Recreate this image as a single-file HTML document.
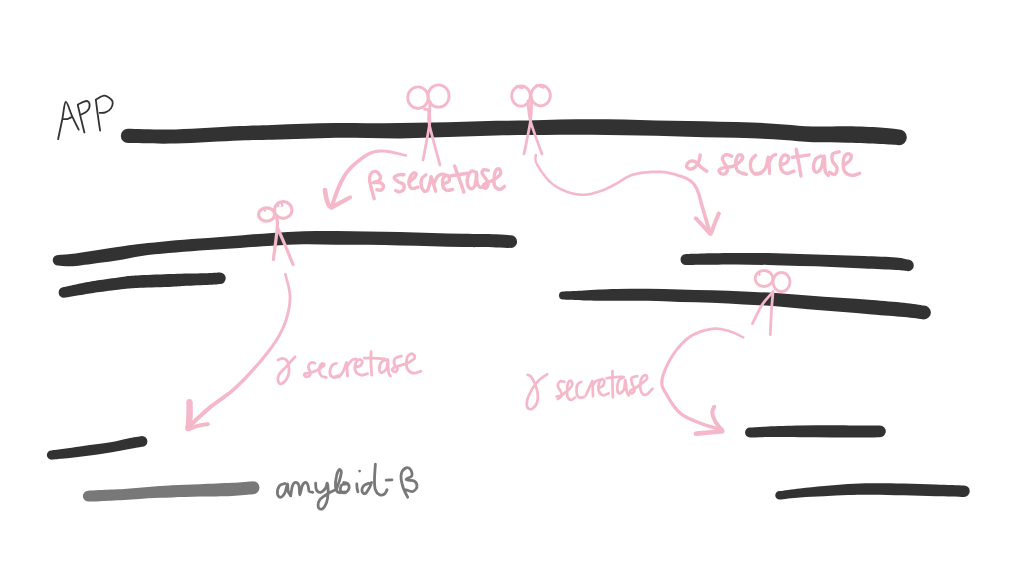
<!DOCTYPE html>
<html><head><meta charset="utf-8"><style>
html,body{margin:0;padding:0;background:#fff;width:1024px;height:576px;overflow:hidden}
svg{display:block}
</style></head><body>
<svg width="1024" height="576" viewBox="0 0 1024 576">
<rect width="1024" height="576" fill="#fff"/>
<g fill="none" stroke-linecap="round" stroke-linejoin="round">
<path d="M128.00,128.75C136.00,128.86 157.33,129.84 176.00,129.40C194.67,128.96 224.00,126.83 240.00,126.10C256.00,125.37 261.33,125.39 272.00,125.00C282.67,124.61 293.33,124.07 304.00,123.75C314.67,123.43 325.33,123.19 336.00,123.10C346.67,123.01 357.33,123.22 368.00,123.20C378.67,123.18 389.33,123.10 400.00,123.00C410.67,122.90 421.33,122.81 432.00,122.60C442.67,122.39 453.33,122.06 464.00,121.75C474.67,121.44 485.33,120.96 496.00,120.75C506.67,120.54 517.33,120.71 528.00,120.50C538.67,120.29 549.33,119.71 560.00,119.50C570.67,119.29 581.33,119.25 592.00,119.25C602.67,119.25 613.33,119.29 624.00,119.50C634.67,119.71 645.33,120.25 656.00,120.50C666.67,120.75 677.33,120.79 688.00,121.00C698.67,121.21 709.33,121.50 720.00,121.75C730.67,122.00 741.33,122.06 752.00,122.50C762.67,122.94 773.83,123.73 784.00,124.40C794.17,125.07 802.33,126.19 813.00,126.50C823.67,126.81 836.83,126.08 848.00,126.25C859.17,126.42 871.50,126.96 880.00,127.50C888.50,128.04 895.83,129.17 899.00,129.50A7.85,7.85 0 0 1 899.00,145.20C895.83,145.00 888.50,144.41 880.00,144.00C871.50,143.59 859.17,143.04 848.00,142.75C836.83,142.46 823.67,142.71 813.00,142.25C802.33,141.79 794.17,140.66 784.00,140.00C773.83,139.34 762.67,138.70 752.00,138.30C741.33,137.90 730.67,137.86 720.00,137.60C709.33,137.34 698.67,137.06 688.00,136.75C677.33,136.44 666.67,135.99 656.00,135.75C645.33,135.51 634.67,135.47 624.00,135.30C613.33,135.13 602.67,134.84 592.00,134.75C581.33,134.66 570.67,134.69 560.00,134.75C549.33,134.81 538.67,134.99 528.00,135.10C517.33,135.21 506.67,135.18 496.00,135.40C485.33,135.62 474.67,136.03 464.00,136.40C453.33,136.77 442.67,137.25 432.00,137.60C421.33,137.95 410.67,138.43 400.00,138.50C389.33,138.57 378.67,138.12 368.00,138.00C357.33,137.88 346.67,137.62 336.00,137.75C325.33,137.88 314.67,138.42 304.00,138.75C293.33,139.08 282.67,139.46 272.00,139.75C261.33,140.04 256.00,139.88 240.00,140.50C224.00,141.12 194.67,143.07 176.00,143.50C157.33,143.93 136.00,143.17 128.00,143.10A7.17,7.17 0 0 1 128.00,128.75Z" fill="#323232" stroke="none"/>
<path d="M58.00,255.00C60.50,254.79 66.33,254.58 73.00,253.75C79.67,252.92 89.67,251.25 98.00,250.00C106.33,248.75 114.67,247.40 123.00,246.25C131.33,245.10 139.17,244.11 148.00,243.10C156.83,242.09 166.00,241.07 176.00,240.20C186.00,239.33 197.33,238.70 208.00,237.90C218.67,237.10 229.33,236.23 240.00,235.40C250.67,234.57 261.33,233.58 272.00,232.90C282.67,232.22 293.33,231.62 304.00,231.30C314.67,230.98 325.33,230.98 336.00,231.00C346.67,231.02 357.33,231.23 368.00,231.40C378.67,231.57 389.33,231.73 400.00,232.00C410.67,232.27 421.33,232.70 432.00,233.00C442.67,233.30 453.33,233.58 464.00,233.80C474.67,234.02 488.17,234.06 496.00,234.30C503.83,234.54 508.50,235.09 511.00,235.25A6.38,6.38 0 0 1 511.00,248.00C508.50,247.90 503.83,247.57 496.00,247.40C488.17,247.23 474.67,247.20 464.00,247.00C453.33,246.80 442.67,246.45 432.00,246.20C421.33,245.95 410.67,245.74 400.00,245.50C389.33,245.26 378.67,244.88 368.00,244.75C357.33,244.62 346.67,244.82 336.00,244.75C325.33,244.68 314.67,244.13 304.00,244.30C293.33,244.47 282.67,245.15 272.00,245.75C261.33,246.35 250.67,247.19 240.00,247.90C229.33,248.61 218.67,249.23 208.00,250.00C197.33,250.77 186.00,251.67 176.00,252.50C166.00,253.33 156.83,253.85 148.00,255.00C139.17,256.15 131.33,258.05 123.00,259.40C114.67,260.75 106.33,261.96 98.00,263.10C89.67,264.24 79.67,265.83 73.00,266.25C66.33,266.67 60.50,265.71 58.00,265.60A5.30,5.30 0 0 1 58.00,255.00Z" fill="#323232" stroke="none"/>
<path d="M64.00,287.00C67.33,286.29 78.00,283.92 84.00,282.75C90.00,281.58 93.33,281.02 100.00,280.00C106.67,278.98 117.33,277.43 124.00,276.65C130.67,275.87 132.00,275.73 140.00,275.30C148.00,274.88 164.00,274.38 172.00,274.10C180.00,273.82 181.33,273.80 188.00,273.60C194.67,273.40 206.67,273.07 212.00,272.90C217.33,272.73 218.67,272.65 220.00,272.60A5.75,5.75 0 0 1 220.00,284.10C218.67,284.22 217.33,284.52 212.00,284.80C206.67,285.08 194.67,285.48 188.00,285.80C181.33,286.12 180.00,286.37 172.00,286.70C164.00,287.03 148.00,287.40 140.00,287.80C132.00,288.20 130.67,288.38 124.00,289.10C117.33,289.82 106.67,291.20 100.00,292.10C93.33,293.00 90.00,293.55 84.00,294.50C78.00,295.45 67.33,297.25 64.00,297.80A5.40,5.40 0 0 1 64.00,287.00Z" fill="#323232" stroke="none"/>
<path d="M686.00,254.00C689.00,253.92 695.67,253.65 704.00,253.50C712.33,253.35 725.33,253.17 736.00,253.10C746.67,253.03 757.33,252.95 768.00,253.10C778.67,253.25 789.33,253.68 800.00,254.00C810.67,254.32 821.33,254.67 832.00,255.00C842.67,255.33 853.33,255.58 864.00,256.00C874.67,256.42 888.67,256.90 896.00,257.50C903.33,258.10 906.00,259.25 908.00,259.60A5.80,5.80 0 0 1 908.00,271.20C906.00,271.00 903.33,270.45 896.00,270.00C888.67,269.55 874.67,269.02 864.00,268.50C853.33,267.98 842.67,267.30 832.00,266.90C821.33,266.50 810.67,266.42 800.00,266.10C789.33,265.78 778.67,265.28 768.00,265.00C757.33,264.72 746.67,264.44 736.00,264.40C725.33,264.36 712.33,264.65 704.00,264.75C695.67,264.85 689.00,264.96 686.00,265.00A5.50,5.50 0 0 1 686.00,254.00Z" fill="#323232" stroke="none"/>
<path d="M563.00,291.50C563.83,291.46 564.50,291.43 568.00,291.25C571.50,291.07 576.00,290.76 584.00,290.40C592.00,290.04 605.33,289.38 616.00,289.10C626.67,288.83 637.33,288.70 648.00,288.75C658.67,288.80 669.33,289.15 680.00,289.40C690.67,289.65 701.33,289.90 712.00,290.25C722.67,290.60 733.33,291.02 744.00,291.50C754.67,291.98 765.33,292.43 776.00,293.10C786.67,293.77 797.33,294.73 808.00,295.50C818.67,296.27 829.33,297.02 840.00,297.75C850.67,298.48 861.33,299.07 872.00,299.90C882.67,300.73 895.33,301.80 904.00,302.75C912.67,303.70 920.67,305.12 924.00,305.60A6.90,6.90 0 0 1 924.00,319.40C920.67,319.00 912.67,317.82 904.00,317.00C895.33,316.18 882.67,315.38 872.00,314.50C861.33,313.62 850.67,312.62 840.00,311.75C829.33,310.88 818.67,310.22 808.00,309.30C797.33,308.38 786.67,307.07 776.00,306.25C765.33,305.43 754.67,304.98 744.00,304.40C733.33,303.82 722.67,303.15 712.00,302.75C701.33,302.35 690.67,302.33 680.00,302.00C669.33,301.67 658.67,300.96 648.00,300.75C637.33,300.54 626.67,300.81 616.00,300.75C605.33,300.69 592.00,300.57 584.00,300.40C576.00,300.23 571.50,299.90 568.00,299.75C564.50,299.60 563.83,299.54 563.00,299.50A4.00,4.00 0 0 1 563.00,291.50Z" fill="#323232" stroke="none"/>
<path d="M51.50,450.40C53.58,450.13 59.25,449.47 64.00,448.80C68.75,448.13 74.67,447.17 80.00,446.40C85.33,445.63 90.67,444.93 96.00,444.20C101.33,443.47 106.67,442.97 112.00,442.00C117.33,441.03 123.00,439.40 128.00,438.40C133.00,437.40 139.67,436.40 142.00,436.00A5.40,5.40 0 0 1 142.00,446.80C139.67,447.22 133.00,448.38 128.00,449.30C123.00,450.22 117.33,451.38 112.00,452.30C106.67,453.22 101.33,454.07 96.00,454.80C90.67,455.53 85.33,456.07 80.00,456.70C74.67,457.33 68.75,458.10 64.00,458.60C59.25,459.10 53.58,459.52 51.50,459.70A4.65,4.65 0 0 1 51.50,450.40Z" fill="#323232" stroke="none"/>
<path d="M88.00,490.75C90.00,490.62 94.00,490.31 100.00,490.00C106.00,489.69 116.00,489.40 124.00,488.90C132.00,488.40 140.00,487.60 148.00,487.00C156.00,486.40 163.33,485.77 172.00,485.30C180.67,484.83 190.00,484.62 200.00,484.20C210.00,483.78 223.17,483.30 232.00,482.80C240.83,482.30 249.50,481.47 253.00,481.20A6.50,6.50 0 0 1 253.00,494.20C249.50,494.48 240.83,495.50 232.00,495.90C223.17,496.30 210.00,496.35 200.00,496.60C190.00,496.85 180.67,497.12 172.00,497.40C163.33,497.67 156.00,497.80 148.00,498.25C140.00,498.70 132.00,499.60 124.00,500.10C116.00,500.60 106.00,501.02 100.00,501.25C94.00,501.48 90.00,501.46 88.00,501.50A5.38,5.38 0 0 1 88.00,490.75Z" fill="#787878" stroke="none"/>
<path d="M750.00,427.60C753.00,427.42 759.67,426.85 768.00,426.50C776.33,426.15 789.33,425.72 800.00,425.50C810.67,425.28 821.33,425.20 832.00,425.20C842.67,425.20 856.00,425.45 864.00,425.50C872.00,425.55 877.33,425.50 880.00,425.50A5.85,5.85 0 0 1 880.00,437.20C877.33,437.27 872.00,437.57 864.00,437.60C856.00,437.63 842.67,437.46 832.00,437.40C821.33,437.34 810.67,437.30 800.00,437.25C789.33,437.20 776.33,437.06 768.00,437.10C759.67,437.14 753.00,437.43 750.00,437.50A4.95,4.95 0 0 1 750.00,427.60Z" fill="#323232" stroke="none"/>
<path d="M779.50,491.00C782.92,490.57 792.58,489.23 800.00,488.40C807.42,487.57 816.00,486.73 824.00,486.00C832.00,485.27 840.00,484.47 848.00,484.00C856.00,483.53 862.67,483.28 872.00,483.20C881.33,483.12 893.33,483.30 904.00,483.50C914.67,483.70 926.00,484.08 936.00,484.40C946.00,484.72 959.33,485.23 964.00,485.40A5.75,5.75 0 0 1 964.00,496.90C959.33,496.78 946.00,496.46 936.00,496.20C926.00,495.94 914.67,495.60 904.00,495.35C893.33,495.10 881.33,494.76 872.00,494.70C862.67,494.64 856.00,494.73 848.00,495.00C840.00,495.27 832.00,495.90 824.00,496.30C816.00,496.70 807.42,496.87 800.00,497.40C792.58,497.93 782.92,499.15 779.50,499.50A4.25,4.25 0 0 1 779.50,491.00Z" fill="#323232" stroke="none"/>
<ellipse cx="418" cy="97.7" rx="10.3" ry="10.8" stroke="#f4b8ca" stroke-width="2.8"/>
<ellipse cx="438.5" cy="96" rx="10.6" ry="11.2" stroke="#f4b8ca" stroke-width="2.8"/>
<path d="M430.1,101.5C430.0,103.2 429.7,108.1 429.6,112.0C429.5,115.9 430.5,117.0 429.4,125.0C428.3,133.0 424.1,154.2 423.0,160.0" stroke="#f4b8ca" stroke-width="2.8"/>
<path d="M424.6,109.3C425.1,109.3 426.9,108.9 427.6,109.6C428.3,110.2 428.5,110.6 428.8,113.2C429.1,115.8 427.5,116.4 429.4,125.0C431.3,133.6 438.2,158.3 440.0,165.0" stroke="#f4b8ca" stroke-width="2.8"/>
<ellipse cx="521" cy="96" rx="9.3" ry="10.2" stroke="#f4b8ca" stroke-width="2.8"/>
<ellipse cx="540.7" cy="95.5" rx="9.7" ry="10.3" stroke="#f4b8ca" stroke-width="2.8"/>
<path d="M531.5,102.0C531.3,105.2 531.8,112.3 530.5,121.0C529.2,129.7 525.1,148.5 524.0,154.0" stroke="#f4b8ca" stroke-width="2.8"/>
<path d="M528.0,101.0C528.4,104.3 528.2,112.2 530.5,121.0C532.8,129.8 540.1,148.5 542.0,154.0" stroke="#f4b8ca" stroke-width="2.8"/>
<ellipse cx="266.6" cy="214.5" rx="8" ry="6.6" stroke="#f4b8ca" stroke-width="3.2"/>
<ellipse cx="283.2" cy="210" rx="8.8" ry="8.3" stroke="#f4b8ca" stroke-width="3.2"/>
<path d="M276.7,218.0C276.8,219.6 277.9,220.6 277.3,227.5C276.8,234.4 274.0,254.2 273.4,259.5" stroke="#f4b8ca" stroke-width="3.2"/>
<path d="M277.3,227.5C278.6,230.4 282.4,238.8 285.0,245.0C287.6,251.2 291.7,261.2 293.0,264.5" stroke="#f4b8ca" stroke-width="3.2"/>
<ellipse cx="764" cy="278.5" rx="8.9" ry="8" stroke="#f4b8ca" stroke-width="2.8"/>
<ellipse cx="781.5" cy="282" rx="8.5" ry="9.5" stroke="#f4b8ca" stroke-width="2.8"/>
<path d="M773.0,291.8C771.2,294.0 765.4,299.7 762.0,305.0C758.6,310.3 754.1,320.4 752.5,323.5" stroke="#f4b8ca" stroke-width="2.8"/>
<path d="M773.0,291.8C772.8,294.8 772.0,302.9 771.5,310.0C771.0,317.1 770.5,330.5 770.3,334.6" stroke="#f4b8ca" stroke-width="2.8"/>
<path d="M277.7,202.6L278.3,206.2" stroke="#f4b8ca" stroke-width="2.2"/>
<path d="M281.8,202.8L282.3,206.0" stroke="#f4b8ca" stroke-width="2.2"/>
<path d="M264.4,208.2L265.0,210.8" stroke="#f4b8ca" stroke-width="2.2"/>
<path d="M758.6,272.2L759.6,274.8" stroke="#f4b8ca" stroke-width="2.2"/>
<path d="M516.5,86.5L522.5,88.0" stroke="#f4b8ca" stroke-width="2.4"/>
<path d="M536.5,85.2L543.5,87.5" stroke="#f4b8ca" stroke-width="2.4"/>
<path d="M406.07,154.13 L405.29,153.95 L404.35,153.73 L403.24,153.45 L401.99,153.14 L400.63,152.80 L399.16,152.43 L397.62,152.06 L396.03,151.68 L394.41,151.31 L392.77,150.96 L391.13,150.62 L389.53,150.32 L387.97,150.06 L386.48,149.84 L385.06,149.69 L383.76,149.60 L382.57,149.56 L381.45,149.54 L380.37,149.54 L379.33,149.56 L378.31,149.62 L377.31,149.70 L376.32,149.81 L375.35,149.97 L374.38,150.16 L373.41,150.39 L372.44,150.67 L371.46,150.99 L370.46,151.37 L369.44,151.79 L368.40,152.26 L367.31,152.79 L366.18,153.40 L365.00,154.07 L363.80,154.82 L362.58,155.62 L361.33,156.47 L360.08,157.36 L358.83,158.30 L357.58,159.26 L356.34,160.25 L355.12,161.26 L353.93,162.28 L352.77,163.30 L351.65,164.32 L350.58,165.33 L349.57,166.33 L348.61,167.30 L347.73,168.26 L346.89,169.21 L346.11,170.16 L345.36,171.10 L344.66,172.04 L343.99,172.99 L343.35,173.94 L342.74,174.91 L342.15,175.89 L341.57,176.88 L341.01,177.90 L340.45,178.94 L339.90,180.01 L339.34,181.11 L338.78,182.25 L338.19,183.44 L337.59,184.75 L336.97,186.18 L336.34,187.70 L335.71,189.29 L335.08,190.93 L334.45,192.61 L333.84,194.29 L333.24,195.96 L332.66,197.60 L332.11,199.19 L331.59,200.69 L331.10,202.10 L330.66,203.39 L330.26,204.54 L329.91,205.52 L329.62,206.31 L333.38,207.69 L333.68,206.87 L334.03,205.86 L334.44,204.70 L334.88,203.41 L335.37,202.00 L335.89,200.50 L336.44,198.92 L337.01,197.30 L337.60,195.65 L338.21,193.99 L338.82,192.35 L339.43,190.74 L340.05,189.20 L340.65,187.74 L341.24,186.39 L341.81,185.16 L342.36,184.00 L342.90,182.87 L343.44,181.80 L343.96,180.76 L344.48,179.76 L345.00,178.79 L345.52,177.86 L346.06,176.94 L346.62,176.05 L347.19,175.17 L347.79,174.30 L348.43,173.43 L349.10,172.56 L349.81,171.68 L350.57,170.80 L351.39,169.90 L352.26,168.97 L353.20,168.01 L354.21,167.03 L355.26,166.03 L356.36,165.03 L357.49,164.04 L358.65,163.05 L359.82,162.08 L361.01,161.13 L362.20,160.21 L363.38,159.34 L364.55,158.51 L365.69,157.73 L366.80,157.02 L367.87,156.38 L368.89,155.81 L369.87,155.30 L370.81,154.85 L371.71,154.45 L372.59,154.09 L373.44,153.79 L374.28,153.52 L375.11,153.30 L375.95,153.11 L376.79,152.95 L377.66,152.83 L378.55,152.73 L379.48,152.66 L380.44,152.61 L381.46,152.59 L382.53,152.59 L383.64,152.60 L384.82,152.65 L386.13,152.77 L387.54,152.95 L389.04,153.18 L390.60,153.45 L392.20,153.75 L393.81,154.07 L395.42,154.42 L397.00,154.76 L398.53,155.11 L399.99,155.45 L401.36,155.76 L402.62,156.05 L403.75,156.31 L404.73,156.52 L405.53,156.67Z" fill="#f4b8ca" stroke="none"/>
<circle cx="405.80" cy="155.40" r="1.30" fill="#f4b8ca" stroke="none"/>
<circle cx="331.50" cy="207.00" r="2.00" fill="#f4b8ca" stroke="none"/>
<path d="M322.63,190.39 L322.68,190.66 L322.73,190.97 L322.79,191.35 L322.86,191.77 L322.93,192.24 L323.01,192.74 L323.10,193.27 L323.19,193.83 L323.28,194.39 L323.38,194.97 L323.49,195.56 L323.59,196.14 L323.71,196.71 L323.82,197.28 L323.94,197.83 L324.06,198.34 L324.19,198.83 L324.32,199.32 L324.46,199.83 L324.60,200.34 L324.74,200.85 L324.89,201.36 L325.05,201.88 L325.20,202.38 L325.36,202.89 L325.53,203.38 L325.70,203.86 L325.88,204.33 L326.06,204.78 L326.25,205.22 L326.45,205.64 L326.67,206.05 L326.92,206.47 L327.20,206.86 L327.50,207.22 L327.80,207.54 L328.11,207.83 L328.41,208.08 L328.71,208.30 L329.00,208.49 L329.27,208.65 L329.51,208.79 L329.73,208.91 L329.92,209.01 L330.06,209.09 L330.16,209.13 L330.18,209.14 L330.22,209.16 L332.78,205.84 L332.61,205.70 L332.39,205.55 L332.19,205.42 L332.01,205.31 L331.84,205.21 L331.68,205.11 L331.53,205.01 L331.39,204.91 L331.25,204.81 L331.13,204.71 L331.01,204.60 L330.90,204.49 L330.80,204.37 L330.71,204.24 L330.62,204.11 L330.53,203.95 L330.43,203.72 L330.30,203.44 L330.18,203.12 L330.05,202.76 L329.91,202.38 L329.78,201.96 L329.64,201.53 L329.51,201.08 L329.38,200.61 L329.25,200.14 L329.12,199.65 L329.00,199.17 L328.88,198.68 L328.76,198.20 L328.64,197.72 L328.54,197.26 L328.43,196.80 L328.32,196.32 L328.22,195.81 L328.11,195.28 L328.01,194.73 L327.91,194.18 L327.82,193.62 L327.73,193.07 L327.64,192.54 L327.55,192.02 L327.48,191.52 L327.40,191.06 L327.33,190.63 L327.27,190.24 L327.22,189.89 L327.17,189.61Z" fill="#f4b8ca" stroke="none"/>
<circle cx="324.90" cy="190.00" r="2.30" fill="#f4b8ca" stroke="none"/>
<circle cx="331.50" cy="207.50" r="2.10" fill="#f4b8ca" stroke="none"/>
<path d="M332.54,209.44 L332.85,209.27 L333.20,209.08 L333.61,208.86 L334.07,208.62 L334.57,208.35 L335.11,208.06 L335.68,207.76 L336.27,207.44 L336.88,207.11 L337.50,206.77 L338.14,206.43 L338.78,206.08 L339.41,205.74 L340.04,205.39 L340.66,205.06 L341.26,204.73 L341.86,204.37 L342.51,204.00 L343.18,203.60 L343.88,203.19 L344.59,202.77 L345.31,202.34 L346.04,201.91 L346.75,201.49 L347.44,201.08 L348.11,200.68 L348.75,200.30 L349.34,199.95 L349.88,199.62 L350.37,199.33 L350.79,199.07 L351.13,198.86 L349.27,195.54 L348.91,195.72 L348.47,195.95 L347.97,196.21 L347.40,196.51 L346.79,196.83 L346.14,197.18 L345.45,197.54 L344.74,197.92 L344.01,198.31 L343.27,198.70 L342.54,199.09 L341.81,199.48 L341.09,199.85 L340.41,200.21 L339.75,200.56 L339.14,200.87 L338.55,201.20 L337.94,201.53 L337.31,201.87 L336.68,202.21 L336.05,202.56 L335.42,202.90 L334.79,203.23 L334.18,203.56 L333.59,203.88 L333.03,204.18 L332.49,204.47 L331.99,204.74 L331.53,204.98 L331.12,205.21 L330.76,205.40 L330.46,205.56Z" fill="#f4b8ca" stroke="none"/>
<circle cx="331.50" cy="207.50" r="2.20" fill="#f4b8ca" stroke="none"/>
<circle cx="350.20" cy="197.20" r="1.90" fill="#f4b8ca" stroke="none"/>
<path d="M534.60,154.94 L534.61,155.17 L534.59,155.41 L534.56,155.72 L534.50,156.10 L534.43,156.53 L534.36,157.02 L534.30,157.56 L534.26,158.14 L534.24,158.77 L534.26,159.45 L534.33,160.16 L534.45,160.91 L534.63,161.70 L534.88,162.52 L535.22,163.37 L535.63,164.24 L536.11,165.15 L536.66,166.13 L537.27,167.18 L537.95,168.29 L538.68,169.46 L539.45,170.66 L540.27,171.88 L541.13,173.12 L542.01,174.36 L542.92,175.60 L543.85,176.81 L544.79,177.99 L545.73,179.12 L546.67,180.20 L547.61,181.22 L548.53,182.15 L549.45,183.01 L550.38,183.83 L551.33,184.62 L552.28,185.37 L553.25,186.09 L554.23,186.77 L555.22,187.43 L556.23,188.05 L557.24,188.65 L558.26,189.22 L559.28,189.76 L560.32,190.29 L561.36,190.78 L562.41,191.26 L563.47,191.72 L564.53,192.16 L565.61,192.59 L566.71,192.99 L567.83,193.38 L568.96,193.75 L570.10,194.09 L571.26,194.41 L572.42,194.71 L573.59,194.98 L574.76,195.22 L575.93,195.44 L577.10,195.63 L578.27,195.78 L579.44,195.91 L580.60,196.01 L581.75,196.07 L582.89,196.10 L584.04,196.08 L585.19,196.02 L586.34,195.92 L587.48,195.78 L588.62,195.61 L589.76,195.40 L590.88,195.17 L592.00,194.92 L593.11,194.65 L594.20,194.36 L595.28,194.06 L596.34,193.75 L597.38,193.43 L598.41,193.11 L599.41,192.80 L600.40,192.49 L601.36,192.17 L602.29,191.85 L603.19,191.52 L604.05,191.18 L604.90,190.83 L605.73,190.48 L606.55,190.11 L607.36,189.73 L608.18,189.34 L609.00,188.93 L609.84,188.51 L610.70,188.08 L611.59,187.63 L612.51,187.16 L613.47,186.67 L614.49,186.16 L615.57,185.59 L616.67,184.98 L617.78,184.32 L618.90,183.63 L620.03,182.91 L621.17,182.18 L622.34,181.45 L623.51,180.71 L624.71,179.99 L625.93,179.28 L627.16,178.61 L628.42,177.96 L629.70,177.36 L631.00,176.81 L632.32,176.32 L633.68,175.90 L635.10,175.52 L636.61,175.17 L638.19,174.85 L639.83,174.56 L641.51,174.30 L643.22,174.07 L644.96,173.87 L646.71,173.70 L648.46,173.55 L650.19,173.43 L651.90,173.34 L653.57,173.27 L655.20,173.22 L656.77,173.19 L658.26,173.18 L659.67,173.20 L661.01,173.24 L662.29,173.32 L663.54,173.44 L664.76,173.59 L665.94,173.76 L667.09,173.96 L668.21,174.18 L669.30,174.42 L670.37,174.68 L671.42,174.95 L672.45,175.23 L673.47,175.52 L674.47,175.81 L675.45,176.11 L676.43,176.40 L677.39,176.69 L678.32,176.98 L679.23,177.26 L680.11,177.55 L680.97,177.85 L681.81,178.14 L682.62,178.45 L683.40,178.76 L684.16,179.08 L684.90,179.41 L685.61,179.75 L686.30,180.10 L686.96,180.46 L687.60,180.83 L688.21,181.22 L688.80,181.62 L689.37,182.04 L689.92,182.47 L690.44,182.90 L690.92,183.32 L691.36,183.74 L691.78,184.16 L692.17,184.59 L692.55,185.03 L692.91,185.49 L693.26,185.98 L693.60,186.50 L693.94,187.06 L694.28,187.66 L694.62,188.31 L694.97,189.00 L695.33,189.76 L695.69,190.57 L696.05,191.42 L696.39,192.32 L696.72,193.27 L697.04,194.27 L697.36,195.32 L697.68,196.41 L697.99,197.55 L698.30,198.72 L698.62,199.92 L698.94,201.16 L699.27,202.43 L699.60,203.72 L699.95,205.04 L700.31,206.38 L700.68,207.74 L701.07,209.11 L701.50,210.55 L701.95,212.10 L702.44,213.76 L702.95,215.49 L703.47,217.28 L704.01,219.10 L704.54,220.93 L705.08,222.75 L705.60,224.52 L706.10,226.24 L706.58,227.88 L707.03,229.41 L707.44,230.82 L707.81,232.07 L708.12,233.16 L708.38,234.04 L712.02,232.96 L711.75,232.08 L711.43,231.00 L711.05,229.75 L710.63,228.35 L710.17,226.82 L709.67,225.18 L709.16,223.47 L708.62,221.69 L708.08,219.88 L707.53,218.05 L706.98,216.24 L706.45,214.45 L705.93,212.72 L705.43,211.07 L704.96,209.52 L704.53,208.09 L704.12,206.75 L703.74,205.42 L703.37,204.11 L703.01,202.81 L702.65,201.53 L702.31,200.26 L701.97,199.02 L701.63,197.81 L701.29,196.62 L700.95,195.46 L700.61,194.33 L700.25,193.23 L699.89,192.17 L699.51,191.15 L699.12,190.17 L698.71,189.23 L698.30,188.36 L697.91,187.55 L697.51,186.79 L697.12,186.07 L696.72,185.39 L696.31,184.75 L695.89,184.14 L695.45,183.56 L695.00,183.00 L694.54,182.47 L694.05,181.95 L693.54,181.46 L693.00,180.97 L692.44,180.50 L691.85,180.03 L691.23,179.56 L690.56,179.09 L689.88,178.63 L689.17,178.20 L688.44,177.79 L687.69,177.40 L686.93,177.02 L686.14,176.66 L685.34,176.32 L684.51,175.99 L683.67,175.67 L682.81,175.36 L681.93,175.05 L681.03,174.76 L680.11,174.47 L679.17,174.19 L678.21,173.91 L677.25,173.63 L676.27,173.34 L675.28,173.05 L674.26,172.75 L673.22,172.46 L672.15,172.18 L671.06,171.90 L669.93,171.64 L668.78,171.39 L667.60,171.17 L666.38,170.96 L665.12,170.78 L663.83,170.64 L662.50,170.52 L661.13,170.44 L659.73,170.40 L658.27,170.39 L656.73,170.40 L655.13,170.44 L653.47,170.49 L651.76,170.57 L650.01,170.68 L648.24,170.81 L646.45,170.96 L644.66,171.15 L642.88,171.36 L641.12,171.60 L639.38,171.87 L637.68,172.18 L636.03,172.52 L634.44,172.89 L632.92,173.30 L631.45,173.78 L630.00,174.32 L628.60,174.92 L627.24,175.56 L625.91,176.25 L624.61,176.97 L623.35,177.71 L622.12,178.46 L620.92,179.21 L619.76,179.96 L618.61,180.69 L617.50,181.40 L616.42,182.08 L615.36,182.72 L614.32,183.31 L613.31,183.84 L612.30,184.35 L611.33,184.84 L610.41,185.31 L609.53,185.76 L608.67,186.19 L607.85,186.60 L607.04,187.00 L606.25,187.38 L605.47,187.74 L604.68,188.10 L603.89,188.44 L603.09,188.77 L602.26,189.09 L601.42,189.40 L600.53,189.71 L599.60,190.01 L598.63,190.32 L597.63,190.63 L596.62,190.94 L595.60,191.25 L594.56,191.56 L593.52,191.85 L592.46,192.13 L591.40,192.39 L590.33,192.63 L589.27,192.85 L588.20,193.04 L587.13,193.20 L586.06,193.34 L585.01,193.43 L583.95,193.49 L582.91,193.50 L581.85,193.48 L580.77,193.43 L579.68,193.34 L578.58,193.23 L577.47,193.08 L576.36,192.91 L575.24,192.71 L574.13,192.49 L573.01,192.23 L571.90,191.96 L570.80,191.66 L569.70,191.33 L568.62,190.99 L567.55,190.63 L566.50,190.24 L565.47,189.84 L564.44,189.42 L563.43,188.98 L562.42,188.52 L561.42,188.04 L560.43,187.54 L559.45,187.02 L558.48,186.48 L557.52,185.92 L556.58,185.32 L555.64,184.71 L554.71,184.06 L553.80,183.38 L552.90,182.67 L552.01,181.93 L551.13,181.16 L550.27,180.35 L549.40,179.49 L548.52,178.54 L547.61,177.51 L546.70,176.42 L545.79,175.29 L544.89,174.11 L544.00,172.92 L543.13,171.71 L542.29,170.50 L541.49,169.31 L540.72,168.14 L540.01,167.02 L539.35,165.94 L538.75,164.93 L538.22,163.99 L537.77,163.16 L537.42,162.42 L537.15,161.72 L536.95,161.07 L536.80,160.45 L536.71,159.86 L536.66,159.30 L536.64,158.77 L536.65,158.26 L536.69,157.78 L536.74,157.32 L536.81,156.88 L536.87,156.46 L536.93,156.04 L536.98,155.63 L537.01,155.21 L537.00,154.86Z" fill="#f4b8ca" stroke="none"/>
<circle cx="535.80" cy="154.90" r="1.20" fill="#f4b8ca" stroke="none"/>
<circle cx="710.20" cy="233.50" r="1.90" fill="#f4b8ca" stroke="none"/>
<path d="M694.34,219.67 L694.59,219.94 L694.90,220.26 L695.24,220.63 L695.63,221.05 L696.06,221.50 L696.51,221.99 L696.99,222.50 L697.49,223.03 L698.00,223.58 L698.52,224.13 L699.05,224.69 L699.57,225.25 L700.08,225.80 L700.59,226.34 L701.07,226.86 L701.53,227.36 L702.00,227.86 L702.48,228.38 L702.98,228.93 L703.50,229.48 L704.02,230.05 L704.55,230.62 L705.07,231.18 L705.58,231.74 L706.08,232.28 L706.56,232.80 L707.01,233.29 L707.44,233.75 L707.82,234.17 L708.17,234.55 L708.48,234.88 L708.73,235.16 L711.67,232.44 L711.42,232.17 L711.12,231.84 L710.77,231.46 L710.38,231.04 L709.95,230.58 L709.50,230.09 L709.02,229.57 L708.52,229.03 L708.01,228.47 L707.49,227.90 L706.96,227.34 L706.44,226.77 L705.92,226.21 L705.42,225.66 L704.93,225.14 L704.47,224.64 L704.00,224.14 L703.51,223.62 L703.01,223.08 L702.49,222.52 L701.97,221.96 L701.44,221.40 L700.92,220.84 L700.41,220.30 L699.91,219.76 L699.43,219.25 L698.98,218.77 L698.55,218.31 L698.16,217.90 L697.82,217.53 L697.51,217.20 L697.26,216.93Z" fill="#f4b8ca" stroke="none"/>
<circle cx="695.80" cy="218.30" r="2.00" fill="#f4b8ca" stroke="none"/>
<circle cx="710.20" cy="233.80" r="2.00" fill="#f4b8ca" stroke="none"/>
<path d="M716.90,212.75 L716.75,213.11 L716.57,213.56 L716.36,214.07 L716.12,214.65 L715.86,215.28 L715.58,215.95 L715.29,216.66 L714.99,217.39 L714.68,218.15 L714.37,218.91 L714.06,219.68 L713.75,220.45 L713.45,221.20 L713.16,221.92 L712.89,222.62 L712.63,223.28 L712.38,223.93 L712.13,224.61 L711.87,225.30 L711.61,226.00 L711.35,226.70 L711.10,227.41 L710.85,228.10 L710.60,228.78 L710.37,229.44 L710.14,230.07 L709.93,230.67 L709.73,231.22 L709.55,231.73 L709.38,232.19 L709.24,232.59 L709.12,232.92 L712.88,234.28 L713.00,233.94 L713.15,233.54 L713.31,233.08 L713.49,232.57 L713.69,232.01 L713.91,231.42 L714.13,230.79 L714.37,230.13 L714.61,229.46 L714.86,228.77 L715.11,228.08 L715.37,227.38 L715.62,226.69 L715.88,226.01 L716.12,225.35 L716.37,224.72 L716.62,224.08 L716.88,223.39 L717.17,222.68 L717.47,221.94 L717.77,221.18 L718.08,220.42 L718.39,219.66 L718.70,218.91 L719.00,218.17 L719.28,217.47 L719.56,216.80 L719.82,216.17 L720.06,215.59 L720.27,215.07 L720.45,214.63 L720.60,214.25Z" fill="#f4b8ca" stroke="none"/>
<circle cx="718.75" cy="213.50" r="2.00" fill="#f4b8ca" stroke="none"/>
<circle cx="711.00" cy="233.60" r="2.00" fill="#f4b8ca" stroke="none"/>
<path d="M284.13,274.37 L284.31,275.24 L284.56,276.28 L284.86,277.45 L285.20,278.74 L285.57,280.14 L285.96,281.64 L286.37,283.21 L286.77,284.85 L287.16,286.54 L287.52,288.27 L287.85,290.00 L288.13,291.74 L288.36,293.47 L288.52,295.15 L288.60,296.79 L288.60,298.37 L288.53,299.95 L288.41,301.57 L288.26,303.20 L288.06,304.86 L287.82,306.52 L287.55,308.21 L287.23,309.90 L286.87,311.60 L286.46,313.31 L286.02,315.02 L285.54,316.73 L285.01,318.44 L284.45,320.15 L283.85,321.85 L283.20,323.54 L282.52,325.22 L281.79,326.89 L281.04,328.54 L280.26,330.17 L279.44,331.79 L278.58,333.40 L277.68,335.02 L276.74,336.63 L275.75,338.26 L274.71,339.89 L273.63,341.55 L272.49,343.23 L271.30,344.93 L270.05,346.67 L268.74,348.45 L267.37,350.26 L265.94,352.12 L264.41,354.04 L262.78,356.05 L261.05,358.12 L259.24,360.26 L257.35,362.43 L255.41,364.64 L253.43,366.86 L251.41,369.08 L249.37,371.29 L247.32,373.48 L245.28,375.63 L243.25,377.72 L241.25,379.75 L239.30,381.70 L237.40,383.55 L235.57,385.29 L233.78,386.92 L232.00,388.48 L230.21,389.96 L228.44,391.39 L226.66,392.75 L224.90,394.08 L223.14,395.36 L221.39,396.61 L219.66,397.83 L217.95,399.04 L216.25,400.24 L214.57,401.44 L212.92,402.64 L211.29,403.86 L209.69,405.10 L208.12,406.36 L206.57,407.66 L205.00,409.00 L203.43,410.37 L201.86,411.75 L200.30,413.15 L198.76,414.54 L197.26,415.91 L195.80,417.25 L194.40,418.54 L193.06,419.79 L191.80,420.96 L190.63,422.06 L189.55,423.06 L188.58,423.96 L187.73,424.73 L187.01,425.38 L189.99,428.62 L190.71,427.94 L191.56,427.13 L192.52,426.20 L193.58,425.18 L194.74,424.07 L195.98,422.88 L197.29,421.62 L198.67,420.32 L200.10,418.97 L201.57,417.59 L203.08,416.20 L204.60,414.80 L206.13,413.41 L207.66,412.05 L209.19,410.72 L210.68,409.44 L212.17,408.20 L213.70,406.99 L215.27,405.79 L216.87,404.59 L218.51,403.39 L220.19,402.18 L221.89,400.95 L223.62,399.69 L225.37,398.40 L227.14,397.08 L228.93,395.71 L230.74,394.28 L232.55,392.80 L234.38,391.24 L236.21,389.62 L238.03,387.91 L239.89,386.11 L241.80,384.21 L243.77,382.22 L245.77,380.15 L247.80,378.02 L249.84,375.84 L251.89,373.62 L253.93,371.37 L255.95,369.11 L257.93,366.85 L259.87,364.61 L261.75,362.39 L263.56,360.22 L265.29,358.10 L266.93,356.05 L268.46,354.08 L269.91,352.19 L271.29,350.34 L272.61,348.53 L273.87,346.75 L275.08,345.00 L276.23,343.28 L277.34,341.57 L278.39,339.88 L279.39,338.20 L280.35,336.53 L281.27,334.86 L282.15,333.18 L282.98,331.50 L283.78,329.81 L284.55,328.10 L285.28,326.38 L285.98,324.63 L286.64,322.87 L287.26,321.10 L287.83,319.33 L288.36,317.55 L288.85,315.77 L289.29,314.00 L289.70,312.22 L290.06,310.46 L290.38,308.70 L290.66,306.95 L290.89,305.21 L291.08,303.49 L291.23,301.79 L291.34,300.10 L291.40,298.43 L291.39,296.71 L291.29,294.94 L291.11,293.14 L290.85,291.33 L290.55,289.52 L290.19,287.72 L289.80,285.95 L289.39,284.22 L288.97,282.55 L288.55,280.96 L288.14,279.45 L287.76,278.05 L287.41,276.77 L287.10,275.63 L286.85,274.65 L286.67,273.83Z" fill="#f4b8ca" stroke="none"/>
<circle cx="285.40" cy="274.10" r="1.30" fill="#f4b8ca" stroke="none"/>
<circle cx="188.50" cy="427.00" r="2.20" fill="#f4b8ca" stroke="none"/>
<path d="M186.40,402.01 L186.39,402.51 L186.38,403.11 L186.38,403.79 L186.38,404.55 L186.37,405.38 L186.37,406.26 L186.37,407.19 L186.37,408.15 L186.36,409.13 L186.36,410.12 L186.34,411.12 L186.33,412.10 L186.31,413.05 L186.28,413.98 L186.24,414.85 L186.20,415.66 L186.18,416.46 L186.15,417.30 L186.11,418.17 L186.06,419.05 L186.01,419.95 L185.95,420.84 L185.88,421.73 L185.82,422.60 L185.75,423.45 L185.68,424.26 L185.62,425.04 L185.57,425.76 L185.51,426.43 L185.47,427.04 L185.44,427.57 L185.41,428.02 L191.39,428.58 L191.45,428.15 L191.51,427.65 L191.59,427.06 L191.68,426.41 L191.78,425.68 L191.88,424.91 L191.98,424.08 L192.08,423.22 L192.19,422.33 L192.29,421.42 L192.40,420.50 L192.49,419.57 L192.58,418.64 L192.66,417.72 L192.74,416.82 L192.80,415.94 L192.82,415.05 L192.83,414.11 L192.83,413.14 L192.83,412.14 L192.82,411.13 L192.81,410.11 L192.79,409.09 L192.77,408.09 L192.75,407.12 L192.72,406.18 L192.70,405.30 L192.68,404.47 L192.65,403.71 L192.63,403.04 L192.61,402.46 L192.60,401.99Z" fill="#f4b8ca" stroke="none"/>
<circle cx="189.50" cy="402.00" r="3.10" fill="#f4b8ca" stroke="none"/>
<circle cx="188.40" cy="428.30" r="3.00" fill="#f4b8ca" stroke="none"/>
<path d="M188.36,431.10 L188.75,430.96 L189.24,430.79 L189.79,430.60 L190.41,430.39 L191.08,430.15 L191.79,429.91 L192.54,429.65 L193.32,429.39 L194.11,429.12 L194.91,428.86 L195.71,428.60 L196.49,428.35 L197.24,428.12 L197.97,427.91 L198.64,427.71 L199.26,427.55 L199.86,427.40 L200.48,427.27 L201.12,427.14 L201.76,427.02 L202.40,426.91 L203.05,426.81 L203.68,426.71 L204.30,426.62 L204.90,426.54 L205.48,426.46 L206.03,426.38 L206.54,426.32 L207.02,426.25 L207.45,426.19 L207.84,426.13 L208.17,426.08 L207.63,422.32 L207.33,422.36 L206.97,422.40 L206.55,422.44 L206.08,422.49 L205.56,422.55 L205.00,422.61 L204.41,422.68 L203.79,422.75 L203.14,422.84 L202.47,422.93 L201.79,423.02 L201.10,423.13 L200.40,423.24 L199.71,423.37 L199.02,423.51 L198.34,423.65 L197.64,423.81 L196.90,424.00 L196.12,424.20 L195.32,424.42 L194.51,424.66 L193.68,424.90 L192.86,425.14 L192.04,425.39 L191.25,425.63 L190.48,425.87 L189.75,426.09 L189.07,426.30 L188.45,426.49 L187.90,426.65 L187.43,426.79 L187.04,426.90Z" fill="#f4b8ca" stroke="none"/>
<circle cx="187.70" cy="429.00" r="2.20" fill="#f4b8ca" stroke="none"/>
<circle cx="207.90" cy="424.20" r="1.90" fill="#f4b8ca" stroke="none"/>
<path d="M743.80,336.31 L743.28,336.07 L742.67,335.77 L741.97,335.41 L741.17,335.00 L740.30,334.56 L739.36,334.08 L738.37,333.59 L737.33,333.08 L736.25,332.56 L735.14,332.05 L734.02,331.56 L732.89,331.08 L731.75,330.63 L730.62,330.22 L729.51,329.85 L728.44,329.54 L727.40,329.27 L726.37,329.01 L725.34,328.75 L724.30,328.50 L723.24,328.27 L722.17,328.05 L721.09,327.85 L719.99,327.68 L718.87,327.54 L717.74,327.43 L716.58,327.36 L715.40,327.33 L714.20,327.35 L712.98,327.42 L711.74,327.54 L710.47,327.72 L709.19,327.94 L707.87,328.20 L706.51,328.50 L705.12,328.83 L703.70,329.20 L702.27,329.61 L700.81,330.07 L699.35,330.56 L697.89,331.10 L696.44,331.68 L694.99,332.31 L693.56,332.98 L692.15,333.71 L690.77,334.48 L689.43,335.30 L688.13,336.18 L686.87,337.12 L685.62,338.12 L684.38,339.18 L683.16,340.29 L681.96,341.46 L680.78,342.67 L679.61,343.92 L678.47,345.20 L677.36,346.51 L676.27,347.85 L675.21,349.20 L674.19,350.57 L673.19,351.95 L672.23,353.34 L671.31,354.72 L670.43,356.11 L669.56,357.51 L668.70,358.98 L667.85,360.49 L667.01,362.04 L666.20,363.63 L665.41,365.23 L664.66,366.85 L663.95,368.46 L663.28,370.08 L662.66,371.68 L662.09,373.25 L661.59,374.80 L661.16,376.30 L660.79,377.76 L660.51,379.17 L660.31,380.52 L660.21,381.82 L660.20,383.05 L660.29,384.22 L660.45,385.34 L660.69,386.41 L660.99,387.44 L661.36,388.43 L661.77,389.38 L662.23,390.30 L662.72,391.20 L663.24,392.09 L663.77,392.98 L664.32,393.87 L664.88,394.78 L665.45,395.72 L666.01,396.70 L666.60,397.74 L667.23,398.84 L667.89,399.97 L668.59,401.13 L669.31,402.30 L670.07,403.50 L670.86,404.70 L671.68,405.89 L672.53,407.08 L673.40,408.26 L674.31,409.41 L675.25,410.54 L676.22,411.63 L677.22,412.67 L678.25,413.67 L679.31,414.61 L680.41,415.48 L681.55,416.30 L682.72,417.07 L683.91,417.80 L685.14,418.49 L686.38,419.14 L687.64,419.77 L688.92,420.36 L690.21,420.93 L691.51,421.48 L692.81,422.02 L694.11,422.54 L695.41,423.05 L696.70,423.56 L697.99,424.07 L699.28,424.58 L700.62,425.11 L702.05,425.65 L703.54,426.18 L705.08,426.70 L706.64,427.22 L708.21,427.72 L709.77,428.21 L711.32,428.68 L712.82,429.14 L714.26,429.57 L715.64,429.97 L716.92,430.35 L718.09,430.70 L719.13,431.01 L720.03,431.28 L720.77,431.52 L721.83,428.08 L721.07,427.85 L720.14,427.58 L719.08,427.28 L717.90,426.94 L716.62,426.58 L715.25,426.18 L713.81,425.77 L712.32,425.33 L710.79,424.87 L709.24,424.40 L707.69,423.92 L706.16,423.43 L704.66,422.93 L703.21,422.42 L701.83,421.92 L700.52,421.42 L699.24,420.91 L697.95,420.40 L696.66,419.89 L695.37,419.38 L694.09,418.87 L692.82,418.34 L691.56,417.81 L690.33,417.26 L689.11,416.70 L687.92,416.11 L686.76,415.50 L685.63,414.87 L684.54,414.20 L683.48,413.50 L682.46,412.77 L681.49,411.99 L680.54,411.17 L679.60,410.28 L678.68,409.34 L677.78,408.34 L676.90,407.30 L676.03,406.22 L675.19,405.12 L674.37,403.99 L673.58,402.85 L672.81,401.71 L672.07,400.56 L671.36,399.43 L670.67,398.31 L670.01,397.21 L669.39,396.14 L668.79,395.10 L668.20,394.09 L667.62,393.12 L667.05,392.20 L666.51,391.31 L665.99,390.46 L665.51,389.63 L665.07,388.82 L664.68,388.02 L664.33,387.23 L664.03,386.43 L663.79,385.61 L663.60,384.76 L663.47,383.88 L663.40,382.95 L663.41,381.95 L663.49,380.88 L663.65,379.71 L663.89,378.45 L664.21,377.11 L664.61,375.71 L665.07,374.26 L665.59,372.76 L666.17,371.23 L666.80,369.67 L667.48,368.11 L668.19,366.55 L668.94,364.99 L669.72,363.45 L670.51,361.95 L671.33,360.48 L672.15,359.06 L672.97,357.69 L673.82,356.36 L674.71,355.02 L675.64,353.68 L676.60,352.35 L677.60,351.02 L678.62,349.72 L679.67,348.43 L680.74,347.17 L681.83,345.93 L682.95,344.74 L684.07,343.59 L685.22,342.48 L686.37,341.42 L687.53,340.43 L688.70,339.49 L689.87,338.62 L691.06,337.81 L692.29,337.04 L693.56,336.31 L694.87,335.62 L696.21,334.98 L697.57,334.38 L698.95,333.81 L700.33,333.29 L701.72,332.81 L703.10,332.36 L704.47,331.96 L705.83,331.59 L707.16,331.26 L708.46,330.96 L709.72,330.71 L710.93,330.48 L712.08,330.31 L713.21,330.18 L714.32,330.11 L715.40,330.08 L716.48,330.10 L717.54,330.15 L718.59,330.24 L719.62,330.36 L720.66,330.51 L721.68,330.68 L722.70,330.87 L723.72,331.09 L724.73,331.32 L725.74,331.56 L726.76,331.81 L727.76,332.06 L728.76,332.33 L729.79,332.65 L730.85,333.03 L731.93,333.44 L733.03,333.89 L734.11,334.36 L735.19,334.84 L736.25,335.33 L737.28,335.82 L738.26,336.30 L739.20,336.76 L740.07,337.19 L740.88,337.59 L741.61,337.95 L742.26,338.25 L742.80,338.49Z" fill="#f4b8ca" stroke="none"/>
<circle cx="743.30" cy="337.40" r="1.20" fill="#f4b8ca" stroke="none"/>
<circle cx="721.30" cy="429.80" r="1.80" fill="#f4b8ca" stroke="none"/>
<path d="M712.32,406.03 L712.26,406.18 L712.19,406.35 L712.08,406.59 L711.93,406.89 L711.77,407.23 L711.58,407.62 L711.38,408.04 L711.19,408.50 L710.99,408.99 L710.80,409.51 L710.63,410.06 L710.49,410.63 L710.37,411.24 L710.30,411.87 L710.27,412.53 L710.31,413.18 L710.39,413.81 L710.50,414.43 L710.64,415.05 L710.80,415.69 L710.99,416.33 L711.20,416.98 L711.43,417.63 L711.68,418.29 L711.94,418.94 L712.22,419.59 L712.51,420.24 L712.80,420.88 L713.11,421.51 L713.42,422.12 L713.74,422.72 L714.07,423.30 L714.43,423.91 L714.84,424.52 L715.27,425.13 L715.72,425.73 L716.18,426.33 L716.65,426.91 L717.13,427.48 L717.60,428.04 L718.07,428.57 L718.52,429.08 L718.94,429.55 L719.33,429.99 L719.69,430.39 L720.00,430.74 L720.26,431.03 L720.46,431.28 L723.54,428.72 L723.30,428.44 L723.01,428.10 L722.68,427.72 L722.31,427.32 L721.92,426.88 L721.51,426.42 L721.07,425.93 L720.63,425.42 L720.19,424.90 L719.74,424.37 L719.31,423.84 L718.90,423.30 L718.50,422.78 L718.14,422.26 L717.82,421.77 L717.53,421.30 L717.25,420.80 L716.97,420.27 L716.69,419.72 L716.41,419.15 L716.15,418.58 L715.89,418.00 L715.64,417.42 L715.41,416.84 L715.19,416.26 L714.99,415.70 L714.82,415.15 L714.66,414.62 L714.53,414.11 L714.42,413.63 L714.34,413.19 L714.29,412.82 L714.27,412.50 L714.29,412.18 L714.33,411.85 L714.39,411.50 L714.48,411.14 L714.60,410.77 L714.73,410.41 L714.88,410.04 L715.03,409.68 L715.20,409.32 L715.37,408.97 L715.53,408.64 L715.69,408.31 L715.84,407.98 L715.98,407.65 L716.08,407.37Z" fill="#f4b8ca" stroke="none"/>
<circle cx="714.20" cy="406.70" r="2.00" fill="#f4b8ca" stroke="none"/>
<circle cx="722.00" cy="430.00" r="2.00" fill="#f4b8ca" stroke="none"/>
<path d="M696.10,435.99 L696.58,435.95 L697.15,435.90 L697.82,435.84 L698.56,435.78 L699.37,435.70 L700.24,435.63 L701.15,435.55 L702.09,435.47 L703.07,435.38 L704.06,435.29 L705.05,435.21 L706.03,435.12 L707.00,435.03 L707.95,434.95 L708.85,434.87 L709.71,434.79 L710.56,434.71 L711.44,434.62 L712.36,434.53 L713.29,434.44 L714.23,434.34 L715.17,434.25 L716.10,434.16 L717.01,434.07 L717.90,433.98 L718.75,433.89 L719.55,433.81 L720.31,433.73 L721.00,433.66 L721.62,433.60 L722.15,433.54 L722.60,433.49 L722.20,429.11 L721.74,429.15 L721.20,429.19 L720.58,429.24 L719.89,429.30 L719.14,429.36 L718.33,429.43 L717.48,429.51 L716.59,429.58 L715.68,429.66 L714.75,429.74 L713.81,429.83 L712.87,429.91 L711.94,429.99 L711.03,430.06 L710.14,430.14 L709.29,430.21 L708.44,430.29 L707.54,430.37 L706.60,430.45 L705.63,430.54 L704.64,430.62 L703.65,430.71 L702.66,430.80 L701.69,430.88 L700.75,430.97 L699.83,431.05 L698.97,431.12 L698.16,431.19 L697.42,431.26 L696.75,431.32 L696.18,431.37 L695.70,431.41Z" fill="#f4b8ca" stroke="none"/>
<circle cx="695.90" cy="433.70" r="2.30" fill="#f4b8ca" stroke="none"/>
<circle cx="722.40" cy="431.30" r="2.20" fill="#f4b8ca" stroke="none"/>
<path d="M58.1,139.2C58.8,135.8 61.1,124.9 62.4,118.7C63.7,112.4 64.2,102.4 65.8,101.9C67.4,101.5 69.8,111.2 72.0,115.8C74.1,120.4 77.5,127.3 78.7,129.6" stroke="#323232" stroke-width="1.8"/>
<path d="M63.4,119.1C64.0,119.1 65.8,119.4 67.2,119.1C68.5,118.8 70.8,117.5 71.5,117.2" stroke="#323232" stroke-width="1.8"/>
<path d="M77.7,104.8C78.3,107.1 79.9,114.0 81.0,118.7C82.2,123.3 83.8,130.2 84.4,132.5" stroke="#323232" stroke-width="1.8"/>
<path d="M78.2,104.3C79.5,103.8 84.4,101.0 86.3,101.0C88.2,101.0 89.5,102.7 89.6,104.3C89.8,106.0 88.8,109.3 87.2,111.0C85.7,112.8 81.7,114.2 80.6,114.8" stroke="#323232" stroke-width="1.8"/>
<path d="M95.8,99.6C96.2,102.1 97.0,109.7 97.8,114.8C98.5,120.0 99.7,128.0 100.1,130.6" stroke="#323232" stroke-width="1.8"/>
<path d="M96.8,99.1C98.1,98.5 101.9,95.5 104.4,95.7C107.0,96.0 111.0,98.4 112.1,100.5C113.2,102.6 112.2,106.2 111.1,108.1C110.0,110.1 107.3,111.6 105.4,112.4C103.5,113.2 100.6,112.8 99.7,112.9" stroke="#323232" stroke-width="1.8"/>
<path d="M374.2,198.7C373.6,196.5 371.5,189.2 370.7,185.8C369.9,182.3 369.3,180.2 369.5,178.0C369.7,175.8 370.8,173.5 371.9,172.5C373.0,171.5 374.8,171.2 376.2,171.7C377.5,172.2 379.5,174.2 380.1,175.6C380.6,177.1 380.4,179.1 379.3,180.3C378.2,181.5 373.3,182.3 373.4,182.7C373.6,183.0 378.4,182.0 380.1,182.7C381.8,183.3 383.4,185.3 383.6,186.6C383.7,187.8 382.0,189.6 380.8,190.1C379.7,190.6 377.6,189.8 376.9,189.7" stroke="#f4b8ca" stroke-width="3.4"/>
<path d="M403.9,174.7C403.0,174.8 400.1,174.4 398.5,174.9C396.9,175.4 394.3,176.6 394.2,177.7C394.1,178.8 396.3,180.4 397.8,181.5C399.3,182.6 402.4,183.0 403.4,184.3C404.3,185.6 404.3,187.9 403.7,189.2C403.1,190.4 400.9,191.7 399.5,191.9C398.2,192.2 396.4,190.8 395.7,190.6" stroke="#f4b8ca" stroke-width="3.4"/>
<path d="M408.9,182.2C409.6,181.6 411.9,180.0 413.1,178.8C414.3,177.5 416.1,175.6 416.2,174.6C416.3,173.6 414.8,172.5 413.8,172.8C412.8,173.2 411.1,175.0 410.3,176.7C409.5,178.3 408.7,180.9 408.9,182.9C409.1,184.9 410.2,187.8 411.7,188.5C413.2,189.2 416.9,187.3 417.9,187.1" stroke="#f4b8ca" stroke-width="3.4"/>
<path d="M425.9,174.9C425.3,175.5 422.9,176.5 422.1,178.1C421.3,179.6 420.8,182.2 421.1,184.3C421.4,186.4 422.7,190.0 423.8,190.9C424.9,191.8 426.6,191.5 427.7,189.9C428.8,188.2 429.9,183.0 430.4,180.8C431.0,178.6 430.7,176.3 431.1,176.7C431.6,177.0 432.5,180.5 433.2,182.9C434.0,185.3 435.2,189.9 435.7,191.2" stroke="#f4b8ca" stroke-width="3.4"/>
<path d="M434.6,182.2C435.1,181.3 436.2,178.0 437.4,176.7C438.5,175.3 440.3,174.6 441.6,174.2C442.8,173.9 444.4,174.5 445.0,174.6" stroke="#f4b8ca" stroke-width="3.4"/>
<path d="M443.5,183.9C444.5,183.4 448.3,182.5 449.1,181.1C449.8,179.7 449.1,176.2 448.1,175.6C447.2,175.0 444.5,175.9 443.5,177.4C442.6,179.0 442.2,182.7 442.6,184.8C443.1,186.9 444.6,189.5 446.3,190.3C448.0,191.1 451.7,189.5 452.7,189.4" stroke="#f4b8ca" stroke-width="3.4"/>
<path d="M454.6,166.0C455.3,168.0 457.6,174.0 459.2,178.4C460.7,182.7 463.0,189.8 463.8,192.1" stroke="#f4b8ca" stroke-width="3.4"/>
<path d="M450.0,176.1C451.4,175.8 455.3,175.2 458.2,174.7C461.1,174.2 465.9,173.5 467.4,173.3" stroke="#f4b8ca" stroke-width="3.4"/>
<path d="M475.4,172.2C474.8,172.0 472.8,170.5 471.6,171.1C470.4,171.7 468.8,173.9 468.1,176.0C467.4,178.1 467.0,181.5 467.4,183.6C467.8,185.7 469.4,188.1 470.6,188.6C471.7,189.1 473.4,187.9 474.4,186.4C475.3,184.9 475.8,181.8 476.1,179.4C476.5,177.1 476.3,171.9 476.5,172.5C476.6,173.1 476.6,180.5 477.2,182.9C477.7,185.4 478.9,186.5 479.9,187.2C480.9,187.9 482.5,187.2 483.1,187.2" stroke="#f4b8ca" stroke-width="3.4"/>
<path d="M488.3,170.4C487.6,170.3 485.1,169.3 484.1,169.7C483.1,170.1 481.9,171.6 482.0,172.8C482.1,174.1 483.8,175.8 484.8,177.4C485.8,178.9 487.5,180.7 487.9,182.2C488.3,183.8 487.9,185.8 487.4,186.7C486.8,187.7 485.5,188.4 484.8,188.1C484.1,187.9 483.0,186.2 483.2,185.3C483.4,184.5 484.6,184.0 485.8,183.3C487.1,182.6 489.0,182.0 490.7,181.2C492.4,180.3 494.6,179.4 496.2,178.2C497.9,177.0 500.0,175.4 500.6,173.9C501.1,172.4 500.2,169.6 499.4,169.0C498.6,168.4 496.8,169.0 495.9,170.4C495.0,171.8 494.4,174.8 494.2,177.4C494.0,179.9 493.8,183.7 494.7,185.7C495.6,187.7 498.1,189.2 499.7,189.3C501.4,189.4 503.8,186.9 504.6,186.4" stroke="#f4b8ca" stroke-width="3.4"/>
<path d="M700.2,154.9C700.0,156.0 699.8,159.0 698.9,161.1C698.0,163.1 696.5,165.9 694.9,167.2C693.4,168.6 691.1,169.2 689.7,169.0C688.3,168.8 686.6,167.2 686.6,165.9C686.6,164.7 688.1,162.2 689.7,161.5C691.2,160.9 693.9,161.0 695.8,162.0C697.7,162.9 699.3,165.7 701.1,167.2C702.9,168.8 705.8,170.5 706.8,171.2" stroke="#f4b8ca" stroke-width="3.4"/>
<path d="M731.8,156.3C731.0,156.0 728.2,154.2 726.6,154.5C725.0,154.8 722.7,156.5 722.4,158.0C722.0,159.5 723.5,161.6 724.4,163.3C725.2,165.0 727.2,166.5 727.5,168.1C727.7,169.8 726.7,172.3 725.7,173.2C724.7,174.2 722.4,174.3 721.3,173.8C720.2,173.3 718.7,171.3 719.1,170.3C719.5,169.3 721.7,168.3 723.9,167.7C726.2,167.0 730.1,167.3 732.7,166.4C735.4,165.4 738.1,163.4 739.8,162.0C741.4,160.5 742.7,158.8 742.8,157.6C743.0,156.4 741.6,154.9 740.6,154.8C739.7,154.6 737.9,155.2 737.1,156.7C736.3,158.2 735.7,161.3 735.8,163.7C735.9,166.1 736.2,169.4 738.0,171.2C739.8,173.0 745.0,173.8 746.3,174.3" stroke="#f4b8ca" stroke-width="3.4"/>
<path d="M755.6,155.4C754.8,156.2 752.0,158.1 751.2,160.2C750.4,162.3 750.2,165.8 750.7,168.1C751.3,170.4 753.0,173.0 754.7,173.8C756.4,174.7 759.8,173.5 760.8,173.4" stroke="#f4b8ca" stroke-width="3.4"/>
<path d="M754.7,173.8C755.9,173.6 759.9,173.4 761.8,172.2C763.7,171.1 765.0,169.4 766.1,166.9C767.2,164.3 767.8,157.4 768.3,157.2C768.8,157.0 768.9,163.1 769.1,165.8C769.3,168.5 769.5,172.0 769.5,173.3" stroke="#f4b8ca" stroke-width="3.4"/>
<path d="M768.8,163.1C769.3,162.0 770.9,158.1 772.0,156.6C773.2,155.2 775.2,154.9 775.8,154.5" stroke="#f4b8ca" stroke-width="3.4"/>
<path d="M781.1,164.7C782.0,164.3 785.3,163.8 786.5,162.6C787.8,161.3 789.0,158.4 788.7,157.2C788.3,155.9 785.7,154.5 784.4,155.0C783.0,155.6 781.1,158.1 780.6,160.4C780.1,162.7 780.2,166.9 781.1,169.0C782.1,171.1 784.4,172.9 786.5,173.3C788.7,173.7 792.8,171.5 794.0,171.1" stroke="#f4b8ca" stroke-width="3.4"/>
<path d="M796.2,149.1C796.6,151.5 798.1,159.2 798.9,163.6C799.7,168.1 800.7,173.9 801.0,176.0" stroke="#f4b8ca" stroke-width="3.4"/>
<path d="M792.4,157.2C793.9,157.0 798.8,156.5 801.6,156.1C804.3,155.8 807.8,155.2 809.1,155.0" stroke="#f4b8ca" stroke-width="3.4"/>
<path d="M820.9,156.1C820.0,156.6 816.8,157.4 815.5,159.3C814.3,161.3 813.2,165.8 813.4,167.9C813.6,170.1 815.3,172.3 816.6,172.2C817.9,172.1 820.2,170.1 821.4,167.4C822.7,164.7 823.5,155.5 824.1,156.1C824.7,156.7 824.5,167.9 825.2,171.1C825.9,174.4 827.9,174.7 828.4,175.4" stroke="#f4b8ca" stroke-width="3.4"/>
<path d="M839.2,151.8C838.1,152.2 833.8,152.4 832.7,154.0C831.6,155.6 832.0,159.2 832.7,161.5C833.4,163.8 836.6,165.8 837.0,167.9C837.4,170.1 836.1,173.7 834.9,174.4C833.6,175.1 830.4,172.6 829.5,172.2" stroke="#f4b8ca" stroke-width="3.4"/>
<path d="M844.5,164.7C845.4,164.0 848.8,162.0 849.9,160.4C851.0,158.8 851.5,156.1 851.0,155.0C850.4,154.0 847.9,153.1 846.7,154.0C845.4,154.9 843.8,157.5 843.4,160.4C843.1,163.3 843.1,168.6 844.5,171.1C846.0,173.7 849.5,175.1 852.0,175.4C854.5,175.8 858.3,173.7 859.6,173.3" stroke="#f4b8ca" stroke-width="3.4"/>
<path d="M278.1,360.0C278.9,359.7 281.0,358.3 282.5,358.4C283.9,358.5 285.8,359.1 286.8,360.4C287.9,361.7 288.4,363.8 288.7,366.0C289.1,368.3 289.2,371.5 288.7,373.8C288.3,376.2 287.2,378.3 286.0,379.9C284.7,381.6 282.5,383.6 281.2,383.8C279.9,384.0 278.5,382.7 278.1,381.2C277.8,379.7 277.7,377.1 279.0,374.7C280.3,372.3 283.3,369.9 286.0,366.9C288.6,363.9 293.5,358.4 295.1,356.7" stroke="#f4b8ca" stroke-width="2.8"/>
<path d="M315.0,363.3C314.5,363.1 313.0,362.1 312.0,362.4C311.0,362.6 309.5,363.7 309.0,364.7C308.4,365.8 308.4,367.4 308.7,368.6C308.9,369.9 310.2,371.1 310.4,372.3C310.6,373.4 310.4,374.8 309.8,375.6C309.2,376.3 307.7,376.9 306.8,376.9C305.8,376.8 304.4,375.7 304.2,375.1C304.0,374.6 304.5,373.8 305.5,373.4C306.5,373.0 308.4,373.3 310.3,372.8C312.1,372.3 314.4,371.4 316.3,370.5C318.2,369.7 320.2,368.6 321.5,367.6C322.9,366.6 324.2,365.4 324.3,364.7C324.4,364.0 323.0,363.1 322.2,363.4C321.4,363.8 320.1,365.5 319.6,366.9C319.1,368.3 319.0,370.6 319.4,372.1C319.7,373.6 320.4,375.1 321.5,376.0C322.7,376.9 325.5,377.2 326.3,377.5" stroke="#f4b8ca" stroke-width="2.8"/>
<path d="M336.3,363.4C335.6,363.7 333.2,363.9 332.1,365.3C331.0,366.8 329.7,370.2 329.8,372.1C329.8,374.0 330.9,376.3 332.4,376.9C333.8,377.5 337.4,375.9 338.5,375.7" stroke="#f4b8ca" stroke-width="2.8"/>
<path d="M333.9,377.6C334.9,377.4 338.1,377.4 339.8,376.1C341.4,374.9 342.5,372.6 343.7,370.3C344.8,368.0 346.0,362.6 346.6,362.5C347.2,362.3 346.9,367.0 347.1,369.3C347.3,371.6 347.5,375.0 347.6,376.1" stroke="#f4b8ca" stroke-width="2.8"/>
<path d="M347.1,366.4C347.9,365.3 350.4,361.2 352.0,360.0C353.5,358.8 355.6,359.2 356.4,359.0" stroke="#f4b8ca" stroke-width="2.8"/>
<path d="M355.4,367.3C356.2,367.1 359.1,366.5 360.3,365.6C361.4,364.6 362.6,362.7 362.4,361.7C362.3,360.7 360.4,359.2 359.3,359.5C358.2,359.8 356.2,361.5 355.6,363.4C355.0,365.4 354.6,369.3 355.6,371.2C356.5,373.2 359.2,374.7 361.2,375.2C363.3,375.6 366.5,373.9 367.6,373.7" stroke="#f4b8ca" stroke-width="2.8"/>
<path d="M371.0,351.7C371.0,353.8 370.9,360.5 371.0,364.4C371.1,368.3 371.7,373.4 371.8,375.2" stroke="#f4b8ca" stroke-width="2.8"/>
<path d="M364.2,358.1C365.8,358.1 370.5,357.9 373.9,358.1C377.4,358.2 382.9,358.9 384.7,359.0" stroke="#f4b8ca" stroke-width="2.8"/>
<path d="M387.6,359.5C386.6,359.9 383.1,360.1 381.8,361.7C380.4,363.3 379.3,367.5 379.3,369.3C379.3,371.1 380.5,372.9 381.8,372.7C383.0,372.6 385.6,370.4 386.6,368.3C387.6,366.2 387.5,359.4 387.8,360.0C388.1,360.7 388.1,369.5 388.6,372.2C389.0,374.9 390.2,375.5 390.5,376.1" stroke="#f4b8ca" stroke-width="2.8"/>
<path d="M401.3,356.1C400.2,356.5 396.1,357.2 394.9,358.6C393.8,359.9 394.0,362.8 394.5,364.4C394.9,366.0 397.1,367.1 397.4,368.3C397.6,369.5 396.7,371.3 395.9,371.7C395.1,372.1 392.9,371.4 392.5,370.8C392.1,370.1 392.5,368.6 393.5,367.8C394.5,367.0 395.9,366.7 398.4,365.9C400.8,365.0 405.4,364.0 408.1,362.7C410.9,361.3 414.1,359.1 414.8,357.6C415.4,356.1 413.3,353.7 412.0,353.7C410.8,353.7 408.0,355.1 407.1,357.6C406.3,360.0 406.2,365.7 407.1,368.3C408.1,370.9 410.7,372.7 413.0,373.2C415.3,373.7 419.5,371.6 420.8,371.2" stroke="#f4b8ca" stroke-width="2.8"/>
<path d="M527.6,374.8C528.3,375.2 530.2,375.5 531.5,377.2C532.7,378.9 534.2,382.1 535.3,384.8C536.3,387.5 537.3,390.5 537.7,393.4C538.0,396.3 538.1,399.5 537.2,402.0C536.3,404.6 534.0,407.7 532.4,408.7C530.8,409.6 528.5,409.2 527.6,407.7C526.8,406.3 526.4,403.3 527.2,400.1C528.0,396.9 530.4,392.0 532.4,388.6C534.4,385.3 536.6,382.4 539.1,380.0C541.6,377.7 545.9,375.3 547.2,374.3" stroke="#f4b8ca" stroke-width="2.7"/>
<path d="M585.9,395.3C586.7,393.6 589.5,387.2 590.6,384.8C591.8,382.5 592.2,380.6 592.6,381.2C592.9,381.8 592.7,386.1 592.7,388.6C592.8,391.2 593.0,395.0 593.0,396.3" stroke="#f4b8ca" stroke-width="2.7"/>
<path d="M592.7,385.8C593.2,385.1 594.3,382.4 595.4,381.5C596.5,380.5 598.6,380.3 599.2,380.0" stroke="#f4b8ca" stroke-width="2.7"/>
<path d="M564.5,381.8C563.9,381.7 561.9,380.8 560.9,381.1C559.8,381.5 558.4,382.8 558.0,383.9C557.6,384.9 557.9,386.2 558.4,387.5C558.8,388.8 560.3,390.4 560.9,391.7C561.4,393.0 562.0,394.3 561.8,395.3C561.6,396.3 560.5,397.0 559.8,397.7C559.1,398.3 558.1,398.7 557.7,399.0" stroke="#f4b8ca" stroke-width="2.7"/>
<path d="M556.7,396.5C557.4,396.4 559.6,396.4 560.9,395.8C562.2,395.3 563.0,394.2 564.5,393.0C566.0,391.8 568.4,390.1 569.7,388.6C571.0,387.2 572.1,385.7 572.3,384.4C572.5,383.1 571.5,381.0 570.9,380.7C570.2,380.5 568.8,381.3 568.1,382.8C567.5,384.3 567.2,387.2 567.1,389.6C567.0,391.9 566.9,395.1 567.6,396.9C568.3,398.6 570.1,399.9 571.3,400.0C572.5,400.1 574.3,397.9 574.9,397.5" stroke="#f4b8ca" stroke-width="2.7"/>
<path d="M581.2,381.8C580.6,382.2 578.4,382.9 577.6,384.4C576.8,385.9 576.4,388.5 576.5,390.6C576.5,392.7 577.1,395.7 578.0,396.9C579.0,398.0 581.0,397.5 582.0,397.5C583.0,397.5 583.9,397.0 584.3,396.9" stroke="#f4b8ca" stroke-width="2.7"/>
<path d="M599.1,387.7C599.7,387.4 602.0,386.9 602.9,385.8C603.8,384.7 604.5,382.1 604.3,381.0C604.2,379.9 602.8,378.8 602.0,379.1C601.1,379.4 599.6,381.0 599.1,382.9C598.5,384.8 598.0,388.5 598.6,390.5C599.3,392.6 601.2,394.8 602.9,395.3C604.6,395.8 607.7,393.7 608.6,393.4" stroke="#f4b8ca" stroke-width="2.7"/>
<path d="M612.5,371.0C612.5,373.1 612.4,379.5 612.5,383.9C612.5,388.2 612.9,395.0 612.9,397.2" stroke="#f4b8ca" stroke-width="2.7"/>
<path d="M606.7,378.1C607.8,378.0 610.9,377.6 613.4,377.4C616.0,377.1 620.6,376.8 622.0,376.7" stroke="#f4b8ca" stroke-width="2.7"/>
<path d="M623.9,377.2C623.1,377.7 620.3,378.3 619.1,380.0C618.0,381.8 617.2,385.5 617.2,387.7C617.2,389.9 618.0,393.1 619.1,393.4C620.3,393.7 622.9,391.8 623.9,389.6C624.9,387.4 624.9,379.7 625.3,380.0C625.8,380.4 626.2,389.0 626.8,391.5C627.3,394.0 628.4,394.7 628.7,395.3" stroke="#f4b8ca" stroke-width="2.7"/>
<path d="M637.3,376.2C636.3,376.5 632.4,376.8 631.6,378.1C630.7,379.5 631.8,382.5 632.3,384.3C632.8,386.2 634.5,387.7 634.6,389.1C634.7,390.5 633.8,392.3 633.0,392.9C632.2,393.6 630.0,393.4 629.6,392.9C629.3,392.5 630.1,390.9 631.1,390.1C632.0,389.3 633.7,389.2 635.4,388.2C637.0,387.1 639.2,385.4 641.1,383.9C643.0,382.4 646.0,380.5 646.8,379.1C647.6,377.7 646.7,375.6 645.9,375.3C645.1,375.0 643.0,375.6 642.1,377.2C641.1,378.8 640.1,382.1 640.1,384.8C640.1,387.5 640.9,391.8 642.1,393.4C643.2,395.0 645.1,395.2 646.8,394.4C648.6,393.6 651.6,389.6 652.6,388.6" stroke="#f4b8ca" stroke-width="2.7"/>
<path d="M284.9,483.5C284.0,483.9 280.8,484.0 279.6,485.7C278.3,487.4 277.3,491.6 277.4,493.5C277.5,495.4 279.0,497.4 280.3,497.3C281.5,497.2 283.7,495.0 284.9,492.8C286.1,490.6 286.8,484.3 287.4,484.0C287.9,483.8 287.7,489.6 288.2,491.5C288.8,493.4 290.3,495.0 290.7,495.7" stroke="#787878" stroke-width="2.8"/>
<path d="M290.7,495.7C291.0,494.0 291.7,487.9 292.5,485.7C293.4,483.5 294.6,482.4 295.7,482.4C296.8,482.4 298.3,483.6 299.0,485.7C299.7,487.8 299.3,494.8 299.8,494.8C300.4,494.8 301.4,487.8 302.3,485.7C303.3,483.6 304.7,482.4 305.7,482.4C306.6,482.4 307.6,484.2 308.1,485.7C308.7,487.2 308.4,490.1 309.1,491.2C309.9,492.3 312.2,492.1 312.8,492.3" stroke="#787878" stroke-width="2.8"/>
<path d="M315.6,483.2C315.7,484.3 315.6,488.3 316.4,489.8C317.3,491.4 319.1,492.6 320.6,492.3C322.1,492.1 324.5,489.7 325.6,488.2C326.7,486.7 326.8,482.4 327.2,483.2C327.6,484.0 328.2,489.8 328.1,493.2C327.9,496.5 327.4,500.5 326.4,503.1C325.4,505.7 323.6,508.2 322.3,508.9C320.9,509.6 318.8,508.8 318.4,507.3C318.0,505.7 318.2,502.1 319.8,499.8C321.4,497.5 325.3,495.2 328.1,493.5C330.8,491.8 335.0,490.2 336.4,489.5" stroke="#787878" stroke-width="2.8"/>
<path d="M336.4,489.5C336.9,487.9 338.9,482.9 339.7,479.9C340.5,476.9 341.5,473.2 341.3,471.6C341.2,469.9 339.7,469.1 338.9,469.9C338.0,470.8 336.9,473.8 336.4,476.6C335.8,479.3 335.3,483.9 335.5,486.5C335.8,489.1 336.5,491.4 338.0,492.3C339.5,493.2 343.6,491.9 344.7,491.8" stroke="#787878" stroke-width="2.8"/>
<path d="M346.7,484.0C345.8,484.2 342.7,483.8 341.7,484.9C340.6,486.0 340.0,489.3 340.5,490.7C341.1,492.0 343.6,493.2 345.0,492.8C346.4,492.5 348.5,490.1 349.0,488.5C349.4,487.0 348.5,484.5 347.6,483.5C346.8,482.5 344.5,482.7 343.8,482.5" stroke="#787878" stroke-width="2.8"/>
<path d="M356.8,484.0C356.8,484.7 356.9,486.9 357.1,488.2C357.3,489.5 357.8,491.2 357.9,491.8" stroke="#787878" stroke-width="2.8"/>
<path d="M368.7,483.2C367.9,483.6 364.9,484.3 363.8,485.7C362.6,487.1 361.8,490.2 362.1,491.5C362.4,492.8 364.2,494.2 365.4,493.5C366.7,492.8 368.5,489.2 369.6,487.4C370.6,485.5 371.2,483.2 371.6,482.4" stroke="#787878" stroke-width="2.8"/>
<path d="M375.4,464.1C375.2,466.7 374.5,475.6 374.5,479.9C374.5,484.2 374.5,487.4 375.4,489.8C376.2,492.3 378.0,494.1 379.5,494.8C381.0,495.5 383.3,494.8 384.5,494.0C385.7,493.2 386.6,490.5 387.0,489.8" stroke="#787878" stroke-width="2.8"/>
<path d="M386.2,480.2L392.0,479.9" stroke="#787878" stroke-width="2.8"/>
<path d="M407.7,497.3C406.9,495.5 403.9,490.3 402.8,486.5C401.7,482.8 400.7,477.9 401.1,474.9C401.5,471.9 403.7,469.2 405.3,468.3C406.8,467.3 409.1,467.8 410.2,469.1C411.3,470.3 412.6,474.0 411.9,475.7C411.2,477.5 405.7,478.6 406.1,479.5C406.5,480.5 412.6,480.0 414.4,481.2C416.2,482.4 417.1,485.1 416.9,486.9C416.6,488.6 414.5,491.0 412.7,491.5C410.9,492.0 407.2,490.1 406.1,489.8" stroke="#787878" stroke-width="2.8"/>
<circle cx="359.6" cy="471.1" r="1.4" fill="#787878" stroke="none"/>
</g>
</svg>
</body></html>
